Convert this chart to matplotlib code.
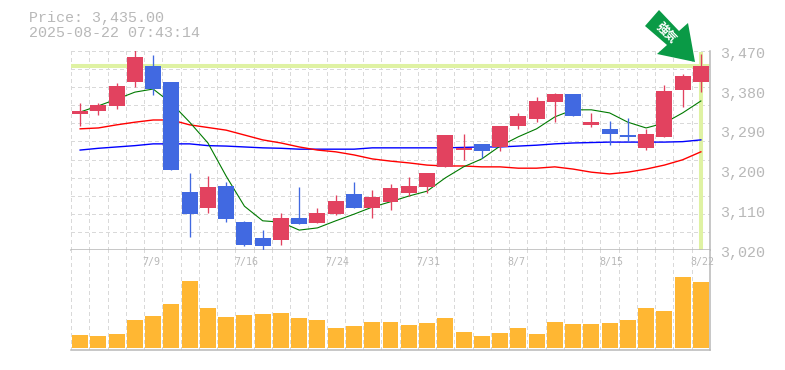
import matplotlib
matplotlib.use('Agg')
import matplotlib.pyplot as plt
from matplotlib.patches import Polygon

# daily candles, oldest first
opens = [3328, 3334, 3346, 3400, 3436, 3400, 3151, 3115, 3165, 3083, 3047, 3043, 3092, 3081, 3101, 3147, 3115,
         3129, 3149, 3162, 3208, 3246, 3260, 3253, 3300, 3316, 3355, 3373, 3303, 3294, 3280, 3251, 3276, 3382, 3400]
closes = [3334, 3348, 3391, 3456, 3384, 3201, 3101, 3162, 3090, 3031, 3029, 3092, 3079, 3104, 3131, 3115, 3140,
          3160, 3165, 3194, 3280, 3251, 3244, 3300, 3323, 3357, 3373, 3323, 3309, 3282, 3276, 3282, 3380, 3413, 3435]
highs = [3352, 3352, 3398, 3472, 3461, 3400, 3194, 3187, 3174, 3086, 3065, 3104, 3162, 3115, 3144, 3174, 3156,
         3169, 3185, 3194, 3280, 3282, 3260, 3300, 3330, 3366, 3375, 3373, 3330, 3312, 3318, 3294, 3393, 3418, 3463]
lows = [3300, 3325, 3339, 3389, 3371, 3201, 3049, 3104, 3083, 3029, 3020, 3031, 3079, 3081, 3099, 3115, 3092,
        3110, 3142, 3149, 3208, 3224, 3228, 3244, 3294, 3309, 3309, 3323, 3298, 3257, 3264, 3246, 3276, 3343, 3377]

ma_short = [3332, 3346, 3361, 3377, 3384, 3352, 3309, 3262, 3187, 3119, 3086, 3083, 3065, 3070, 3086, 3101, 3117,
            3129, 3142, 3153, 3183, 3208, 3226, 3255, 3276, 3294, 3321, 3337, 3337, 3330, 3309, 3296, 3307, 3330, 3357]
ma_mid = [3294, 3296, 3303, 3309, 3314, 3314, 3303, 3297, 3291, 3280, 3269, 3262, 3253, 3246, 3242, 3235, 3226,
          3221, 3217, 3212, 3210, 3210, 3208, 3208, 3205, 3205, 3208, 3203, 3196, 3192, 3196, 3203, 3212, 3224, 3242]
ma_long = [3246, 3250, 3253, 3256, 3260, 3260, 3260, 3256, 3255, 3253, 3251, 3250, 3248, 3248, 3248, 3248, 3251,
           3251, 3251, 3251, 3251, 3252, 3253, 3253, 3255, 3257, 3260, 3262, 3263, 3264, 3264, 3264, 3264, 3265, 3269]

volumes = [13, 12, 14, 28, 32, 44, 67, 40, 31, 33, 34, 35, 30, 28, 20, 22, 26, 26,
           23, 25, 30, 16, 12, 15, 20, 14, 26, 24, 24, 25, 28, 40, 37, 71, 66]

price_ticks = [3470, 3380, 3290, 3200, 3110, 3020]
price_labels = ['3,470', '3,380', '3,290', '3,200', '3,110', '3,020']
date_pos = [4, 9, 14, 19, 24, 29, 34]
date_labels = ['7/9', '7/16', '7/24', '7/31', '8/7', '8/15', '8/22']
last_price = 3435

RED = '#E2425F'
BLUE = '#4169E1'
GREY = '#B8B8B8'
HILITE = '#DFF2A3'
MONO = 'Liberation Mono'
W, H = 785, 370


def px_axes(x0, y0, x1, y1):
    # axes box from pixel corners, y counted from the top
    return fig.add_axes([x0 / W, 1 - y1 / H, (x1 - x0) / W, (y1 - y0) / H])


fig = plt.figure(figsize=(7.85, 3.70), dpi=100, facecolor='white')
ax = px_axes(71, 51, 710, 250)
ax_vol = px_axes(71, 250, 710, 350)
n = len(closes)
grid_kw = dict(color='#D9D9D9', lw=0.75, ls=(0, (3, 3)), antialiased=False)

for a in (ax, ax_vol):
    a.set_xlim(-0.5, n - 0.5)
    a.set_xticks([i - 0.5 for i in range(n + 1)])
    a.tick_params(length=0, labelbottom=False, labelleft=False)
    a.grid(axis='x', **grid_kw)
    a.set_axisbelow(True)
    for s in ('left', 'top'):
        a.spines[s].set_visible(False)
    for s in ('right', 'bottom'):
        a.spines[s].set_color(GREY)
        a.spines[s].set_linewidth(1.1)

# price panel
ax.set_ylim(3020, 3470)
ax.set_yticks([3470 - i * 450 / 11 for i in range(12)])
ax.grid(axis='y', **grid_kw)

ax.axhline(last_price, color=HILITE, lw=2.9, zorder=1.5)
ax.vlines(n - 1, 3020, 3468, color=HILITE, lw=2.9, zorder=1.5)

xs = list(range(n))
ax.plot(xs, ma_long, color='#0000FF', lw=1.0, zorder=2)
ax.plot(xs, ma_mid, color='#FF0000', lw=1.0, zorder=2)
ax.plot(xs, ma_short, color='#007A00', lw=0.8, zorder=2)

for i in xs:
    col = RED if closes[i] >= opens[i] else BLUE
    ax.vlines(i, lows[i], highs[i], color=col, lw=0.95, zorder=3)
    ax.bar(i, abs(closes[i] - opens[i]), bottom=min(opens[i], closes[i]), width=0.875, color=col, zorder=4)

for p, lab in zip(price_ticks, price_labels):
    ax.annotate(lab, xy=(1, p), xycoords=ax.get_yaxis_transform(), xytext=(7, -2),
                textcoords='offset points', ha='left', va='center', color=GREY,
                family=MONO, fontsize=10.8, annotation_clip=False)

# volume panel
ax_vol.set_ylim(-2, 98)
ax_vol.set_yticks([])
ax_vol.bar(xs, volumes, width=0.875, color='#FFB733', zorder=3)
for i, lab in zip(date_pos, date_labels):
    ax_vol.annotate(lab, xy=(i, 0.88), xycoords=ax_vol.get_xaxis_transform(), xytext=(-7.6, 0),
                    textcoords='offset points', ha='left', va='center', color=GREY,
                    family='DejaVu Sans Mono', fontsize=7.2, annotation_clip=False)

# header
fig.text(29 / W, 1 - 18 / H, 'Price: 3,435.00', color=GREY, family=MONO, fontsize=10.8, va='center')
fig.text(29 / W, 1 - 33 / H, '2025-08-22 07:43:14', color=GREY, family=MONO, fontsize=10.8, va='center')

# signal arrow
arrow_px = [(645, 26), (659, 10), (679, 31), (688, 23), (695, 62), (657, 54), (667, 45)]
fig.add_artist(Polygon([(x / W, 1 - y / H) for x, y in arrow_px], closed=True, transform=fig.transFigure,
                       facecolor='#0A9A46', edgecolor='none', zorder=10))
fig.text(666.5 / W, 1 - 33 / H, '強気', color='white', family=['Noto Sans CJK JP', 'DejaVu Sans'], fontsize=8.5,
         fontweight='bold', rotation=-45, rotation_mode='anchor', ha='center', va='center', zorder=11)

fig.savefig('out.png', dpi=100)
